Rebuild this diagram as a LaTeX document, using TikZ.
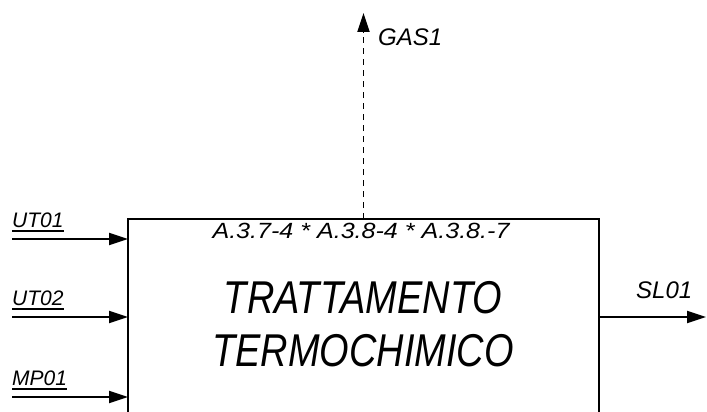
\documentclass[tikz,border=0pt]{standalone}
\usepackage{fontspec}
\newfontfamily\diagfont{Liberation Sans}
\newfontfamily\codefont[FakeStretch=1.14]{Liberation Sans}
\newfontfamily\titlefont[FakeStretch=0.825]{Liberation Sans}
\usetikzlibrary{arrows.meta, calc}

\begin{document}
\begin{tikzpicture}[x=1pt, y=-1pt,
    procbox/.style={draw, line width=2pt, outer sep=0pt, minimum width=471pt, minimum height=260pt, anchor=north west},
    flow/.style={line width=1.8pt, -{Triangle[length=19pt, width=12pt]}},
    tag/.style={inner sep=0pt, anchor=base west, font=\diagfont\itshape\fontsize{21}{24}\selectfont},
    outtag/.style={inner sep=0pt, anchor=base west, font=\diagfont\itshape\fontsize{24}{28}\selectfont},
    uline/.style={line width=1.5pt},
]
\path[use as bounding box, clip] (0,0) rectangle (707,412);

% Process block (runs past the lower edge)
\node[procbox] (proc) at (128,219) {};
\node[inner sep=0pt, anchor=base, font=\codefont\itshape\fontsize{22}{26}\selectfont] (code) at (361,238) {A.3.7-4 * A.3.8-4 * A.3.8.-7};
\node[inner sep=0pt, anchor=base, font=\titlefont\itshape\fontsize{46}{53}\selectfont] (title1) at (363,313) {TRATTAMENTO};
\node[inner sep=0pt, anchor=base, font=\titlefont\itshape\fontsize{46}{53}\selectfont] (title2) at (363,366) {TERMOCHIMICO};

% Inputs
\foreach \name/\yy in {UT01/239, UT02/317, MP01/397} {
    \coordinate (s\name) at (12,\yy);
    \node[tag] (l\name) at (12,\yy-12) {\name};
    \draw[uline] ($(l\name.base west)+(0,4)$) -- ($(l\name.base east)+(0,4)$);
    \draw[flow] (s\name) -- (s\name -| proc.west);
}

% Output
\coordinate (sl01) at (706,317);
\draw[flow] (sl01 -| proc.east) -- (sl01);
\node[outtag] (lsl01) at (636,298) {SL01};

% Gas
\coordinate (gas1) at (363.5,13);
\draw[flow, dash pattern=on 6pt off 5pt] (proc.north) -- (gas1);
\node[outtag] (lgas1) at (378,46) {GAS1};

\end{tikzpicture}
\end{document}
